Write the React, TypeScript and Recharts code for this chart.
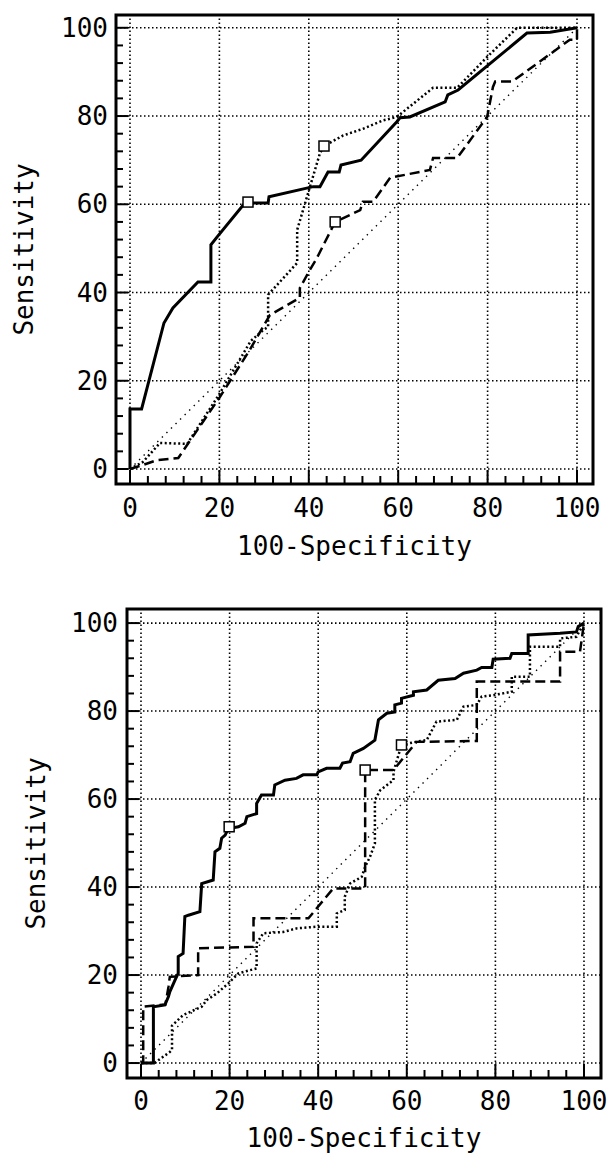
import React from 'react'
import { ComposedChart, Line, Scatter, XAxis, YAxis, ReferenceLine, ReferenceArea, Label } from 'recharts'

// axis values
const tickValues = [0, 4, 8, 12, 16, 20, 24, 28, 32, 36, 40, 44, 48, 52, 56, 60, 64, 68, 72, 76, 80, 84, 88, 92, 96, 100]
const gridValues = [0, 20, 40, 60, 80, 100]
const chanceLine = [[0, 0], [100, 100]]

// upper panel: [100-specificity, sensitivity]
const topSolid = [
  [0, 0], [0, 13.6], [2.6, 13.6], [7.6, 33.1], [9.6, 36.5], [15.2, 42.4], [18.1, 42.4], [18.1, 50.8],
  [19.5, 52.6], [25.7, 60.3], [30.9, 60.3], [31.1, 61.7], [41, 64], [42.5, 64], [44.3, 67.3], [46.8, 67.3],
  [47.2, 68.9], [51.7, 70], [59.7, 78.7], [60.4, 79.6], [62.6, 79.8], [70.5, 83.2], [71.1, 84.8],
  [73.4, 85.9], [88.8, 98.8], [94, 99], [100, 100],
]
const topDotted = [
  [0, 0], [2.9, 1.6], [6.7, 5.9], [12.8, 5.7], [20, 17], [27, 29], [29.8, 31.5], [30.9, 32.2], [30.9, 39.5],
  [37.4, 46.7], [37.4, 54.2], [42.5, 71.6], [43.4, 73.2], [47.7, 75.6], [52.1, 77.1], [56.6, 79], [59.7, 79.8],
  [67.8, 86.4], [73.2, 86.4], [79.9, 93.4], [86.6, 100], [100, 100],
]
const topDashed = [
  [0, 0], [2.9, 0.9], [6, 2], [10.8, 2.5], [20.1, 16.3], [26.8, 27], [31.3, 34.9], [38, 38.8], [38, 41],
  [40, 44.7], [41.8, 47.8], [45.9, 56], [47, 56.5], [51.5, 58.7], [52.1, 60.6], [54.4, 60.6], [58.2, 66],
  [67.1, 67.8], [67.8, 70.5], [73.2, 70.5], [79.9, 79.8], [81.2, 86.6], [81.7, 87.8], [85.5, 87.8],
  [98.4, 97.3], [100, 97.3], [100, 100],
]
const topMarks = [[26.4, 60.5], [43.4, 73.2], [45.9, 56]]

// lower panel
const botSolid = [
  [0, 0], [2.8, 0], [2.8, 12.8], [5.4, 13.2], [6.2, 15.1], [6.5, 16.2], [7.7, 18.9], [8.4, 20.4], [8.4, 24.2],
  [9.5, 24.9], [9.9, 33.3], [10.7, 33.6], [13.3, 34.4], [13.7, 40.8], [16.3, 41.6], [16.7, 48], [17.8, 48.8],
  [18.2, 51.1], [19, 51.8], [19.9, 53.7], [20.8, 53.5], [22, 53.7], [23.5, 54.5], [23.9, 56], [26.1, 56.7],
  [26.1, 59], [27.2, 60.9], [29.9, 60.9], [30.2, 63.2], [32.5, 64.3], [35.1, 64.7], [36.6, 65.5], [39.7, 65.5],
  [40, 66.2], [41.9, 67], [44.9, 67], [45.5, 68.2], [47.2, 68.5], [47.9, 70.4], [50.2, 71.5], [52.8, 73.4],
  [53.6, 78], [55.5, 79.5], [57.3, 79.8], [57.3, 81.4], [58.8, 81.8], [58.8, 82.9], [61.5, 83.6], [61.5, 84.4],
  [64.5, 84.8], [67.1, 87], [70.9, 87.4], [72.8, 88.6], [75.8, 89.3], [76.9, 89.9], [79.2, 89.9], [79.5, 91.8],
  [83.3, 92], [83.7, 93.1], [87.4, 93.1], [87.4, 97.3], [94.6, 97.7], [98.3, 98], [98.7, 99.2], [100, 100],
]
const botDotted = [
  [0, 0], [3, 0], [6.5, 2.5], [7, 3], [7, 8.5], [9.5, 10.9], [13.7, 12.8], [14.8, 14.3], [17.1, 15.8],
  [19.7, 18.1], [22, 20.4], [26.1, 21.5], [26.1, 27.2], [27.6, 29.5], [32.1, 29.8], [35.1, 30.6], [39.7, 31],
  [44.2, 31], [44.2, 34], [46, 34.8], [46, 37.8], [47.2, 40.8], [49.8, 42.3], [50.6, 44.6], [51.7, 46.9],
  [52.8, 49.9], [52.8, 59.8], [54, 62], [57, 64.3], [57, 66.2], [58.8, 72.3], [62, 73], [64.5, 73.4],
  [66.7, 77.6], [71.3, 78], [72.8, 81], [75.8, 81.4], [76.9, 83.3], [79.5, 83.6], [83.7, 84.4], [83.7, 87.8],
  [87.8, 87.8], [87.8, 94.6], [94.6, 94.6], [94.6, 96.5], [98.3, 96.9], [100, 100],
]
const botDashed = [
  [0, 0], [0.5, 0], [0.5, 12.8], [5.5, 13.3], [6.2, 17.3], [6.5, 19.6], [12.9, 20], [12.9, 26.1], [25.4, 26.4],
  [25.4, 32.9], [37.8, 32.9], [43.4, 39.7], [50.6, 39.7], [50.6, 66.6], [57, 66.6], [62.2, 73], [75.8, 73.2],
  [75.8, 86.7], [94.6, 86.7], [94.6, 93.5], [99.1, 93.5], [100, 100],
]
const botMarks = [[19.9, 53.7], [50.6, 66.6], [58.8, 72.3]]

const FONT = '"DejaVu Sans Mono", monospace'
const toPts = (arr: number[][]) => arr.map(([x, y]) => ({ x, y }))

const Square = (p: any) => (
  <rect x={p.cx - 5} y={p.cy - 5} width={10} height={10} fill="#fff" stroke="#000" strokeWidth={1.5} />
)

function RocPanel({ cfg, solid, dotted, dashed, marks }: any) {
  const { width, height, margin, yAxisWidth, xAxisHeight, xDomain, yDomain, yTitleX, xLabelDy, xTitleDy, yLabelGap } = cfg
  const plotTop = margin.top
  const plotBottom = height - margin.bottom - xAxisHeight
  const plotLeft = margin.left + yAxisWidth
  const plotRight = width - margin.right

  const XTick = (p: any) => {
    const v = p.payload.value
    const major = v % 20 === 0
    return (
      <g>
        <line x1={p.x} y1={plotBottom} x2={p.x} y2={plotBottom - (major ? 14 : 8)} stroke="#000" strokeWidth={2} />
        {major && (
          <text x={p.x} y={plotBottom + xLabelDy} textAnchor="middle" fontFamily={FONT} fontSize={26} fill="#000">
            {v}
          </text>
        )}
      </g>
    )
  }

  const YTick = (p: any) => {
    const v = p.payload.value
    const major = v % 20 === 0
    return (
      <g>
        <line x1={plotLeft} y1={p.y} x2={plotLeft + (major ? 12 : 7)} y2={p.y} stroke="#000" strokeWidth={2} />
        {major && (
          <text x={plotLeft - yLabelGap} y={p.y + 9} textAnchor="end" fontFamily={FONT} fontSize={26} fill="#000">
            {v}
          </text>
        )}
      </g>
    )
  }

  const XTitle = () => (
    <text x={(plotLeft + plotRight) / 2} y={plotBottom + xTitleDy} textAnchor="middle" fontFamily={FONT} fontSize={26} fill="#000">
      100-Specificity
    </text>
  )
  const cy = (plotTop + plotBottom) / 2
  const YTitle = () => (
    <text x={yTitleX} y={cy} transform={`rotate(-90, ${yTitleX}, ${cy})`} textAnchor="middle" fontFamily={FONT} fontSize={26} fill="#000">
      Sensitivity
    </text>
  )

  return (
    <ComposedChart width={width} height={height} margin={margin}>
      <XAxis
        type="number"
        dataKey="x"
        domain={xDomain}
        allowDataOverflow
        ticks={tickValues}
        interval={0}
        height={xAxisHeight}
        axisLine={false}
        tickLine={false}
        tickSize={0}
        tickMargin={0}
        tick={(p: any) => <XTick {...p} />}
        label={<Label content={<XTitle />} />}
      />
      <YAxis
        type="number"
        dataKey="y"
        domain={yDomain}
        allowDataOverflow
        ticks={tickValues}
        interval={0}
        width={yAxisWidth}
        axisLine={false}
        tickLine={false}
        tickSize={0}
        tickMargin={0}
        tick={(p: any) => <YTick {...p} />}
        label={<Label content={<YTitle />} />}
      />
      {gridValues.map((v) => (
        <ReferenceLine key={'gx' + v} x={v} stroke="#000" strokeWidth={1.6} strokeDasharray="1.5 2.5" />
      ))}
      {gridValues.map((v) => (
        <ReferenceLine key={'gy' + v} y={v} stroke="#000" strokeWidth={1.6} strokeDasharray="1.5 2.5" />
      ))}
      <Line data={toPts(chanceLine)} dataKey="y" type="linear" stroke="#000" strokeWidth={1.4} strokeDasharray="1.4 5" dot={false} isAnimationActive={false} />
      <Line data={toPts(dashed)} dataKey="y" type="linear" stroke="#000" strokeWidth={2.5} strokeDasharray="10 5" dot={false} isAnimationActive={false} />
      <Line data={toPts(dotted)} dataKey="y" type="linear" stroke="#000" strokeWidth={2.5} strokeDasharray="2 2.5" dot={false} isAnimationActive={false} />
      <Line data={toPts(solid)} dataKey="y" type="linear" stroke="#000" strokeWidth={3} dot={false} isAnimationActive={false} />
      <ReferenceArea x1={xDomain[0]} x2={xDomain[1]} y1={yDomain[0]} y2={yDomain[1]} fill="none" fillOpacity={0} stroke="#000" strokeWidth={3} ifOverflow="visible" />
      <Scatter data={toPts(marks)} dataKey="y" shape={Square} isAnimationActive={false} />
    </ComposedChart>
  )
}

const topCfg = {
  width: 608, height: 590, margin: { top: 15, right: 15, bottom: 0, left: 0 },
  yAxisWidth: 116, xAxisHeight: 106, xDomain: [-3.13, 103.58], yDomain: [-3.4, 102.9],
  yTitleX: 33, xLabelDy: 33, xTitleDy: 71, yLabelGap: 8,
}
const botCfg = {
  width: 608, height: 563, margin: { top: 19, right: 7, bottom: 0, left: 0 },
  yAxisWidth: 127, xAxisHeight: 75, xDomain: [-3.16, 103.84], yDomain: [-3.4, 103.2],
  yTitleX: 45, xLabelDy: 32, xTitleDy: 69, yLabelGap: 9,
}

export default function App() {
  return (
    <div style={{ position: 'absolute', left: 0, top: 0, width: 608, height: 1153, background: '#fff' }}>
      <RocPanel cfg={topCfg} solid={topSolid} dotted={topDotted} dashed={topDashed} marks={topMarks} />
      <RocPanel cfg={botCfg} solid={botSolid} dotted={botDotted} dashed={botDashed} marks={botMarks} />
    </div>
  )
}
